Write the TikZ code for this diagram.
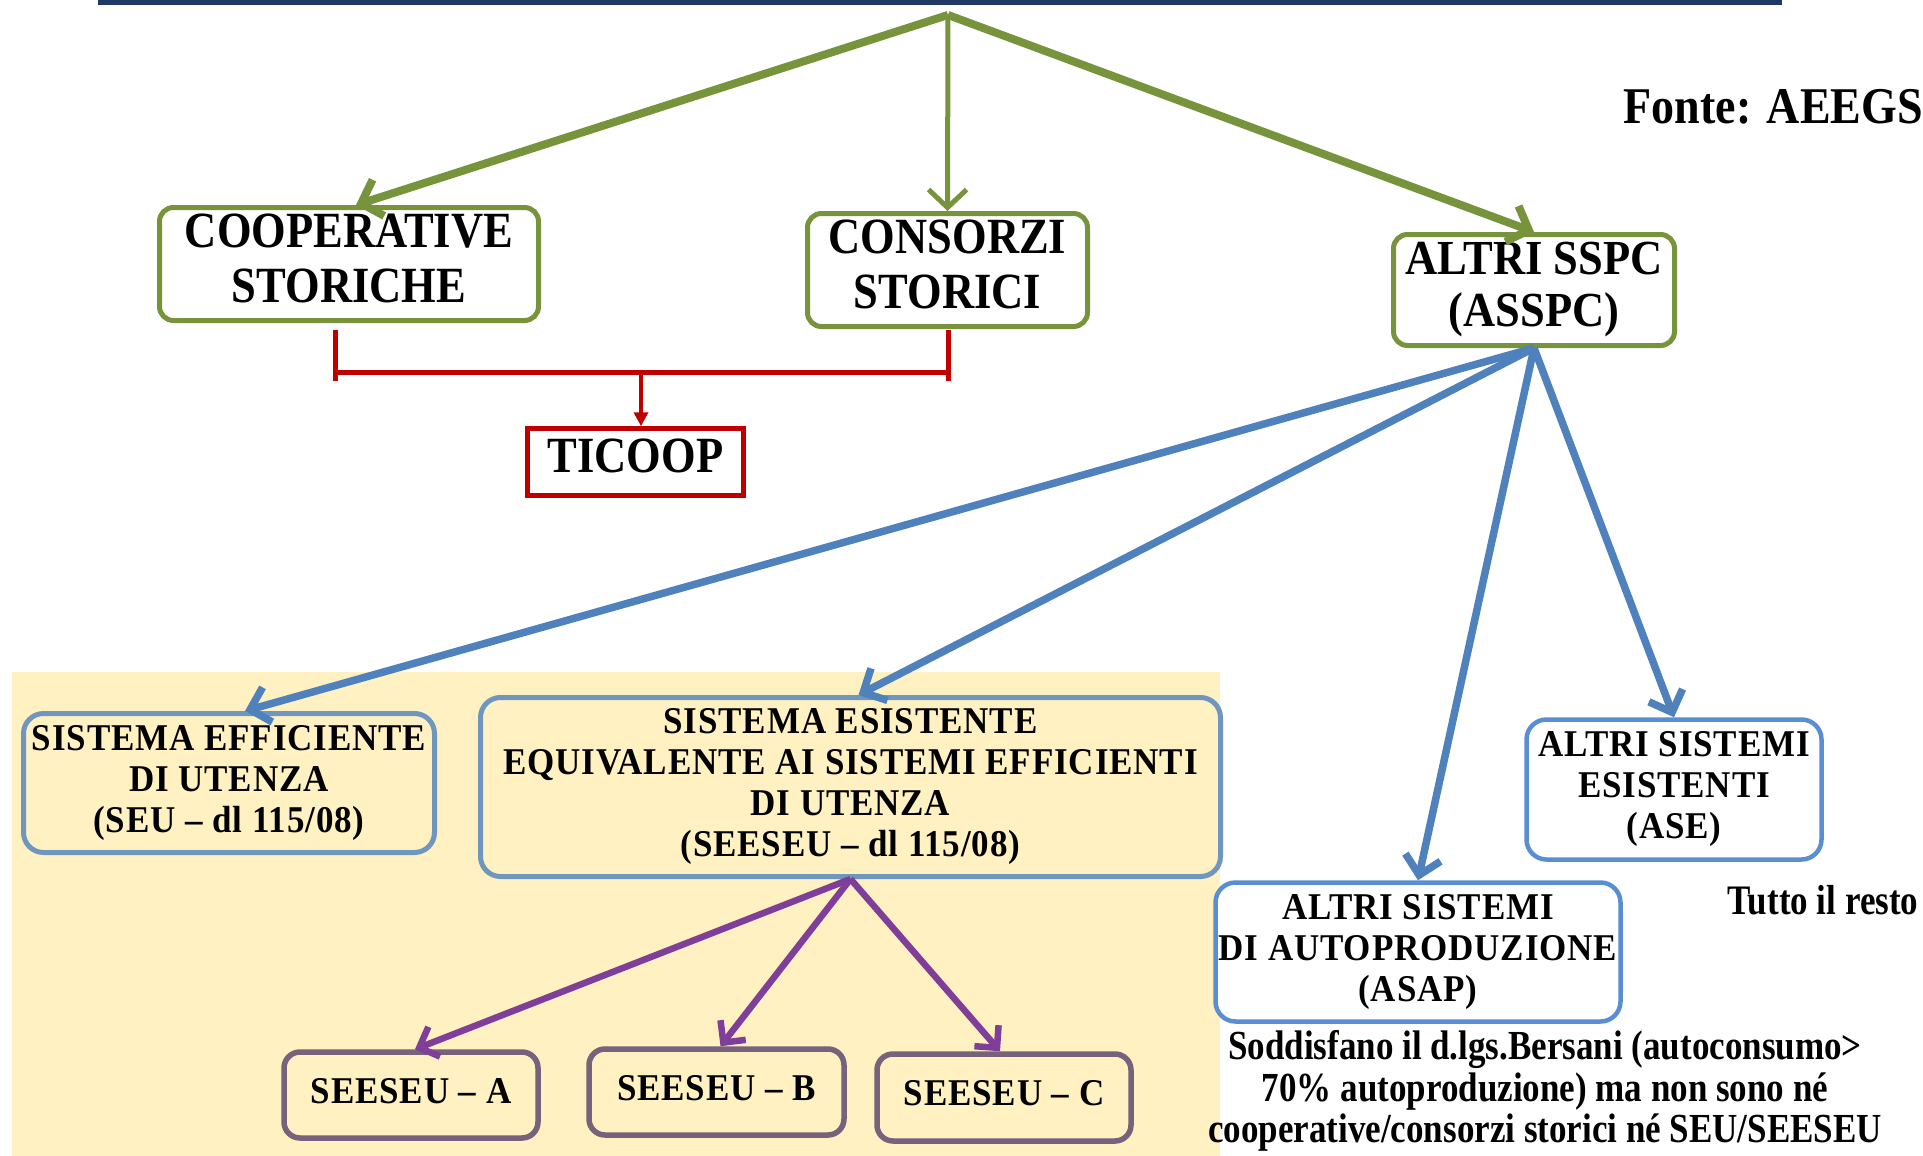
\documentclass[tikz,border=0pt]{standalone}
\usepackage{fontspec}
\setmainfont{Liberation Serif}
\usepackage{graphicx}
\usetikzlibrary{arrows.meta}

\definecolor{navybar}{HTML}{1F3864}
\definecolor{olivegreen}{HTML}{77933C}
\definecolor{darkred}{HTML}{C00000}
\definecolor{steelblue}{HTML}{4F81BD}
\definecolor{greyblue}{HTML}{6F96BE}
\definecolor{brightblue}{HTML}{5A8ED2}
\definecolor{violet}{HTML}{7F3F98}
\definecolor{mauve}{HTML}{76627A}
\definecolor{paleyellow}{HTML}{FFF1C2}

% vertically stretched, centred block of lines
\newcommand{\tallblock}[2]{\scalebox{1}[#1]{\begin{tabular}{@{}c@{}}#2\end{tabular}}}

\tikzset{
  bigtext/.style={font=\bfseries\fontsize{44.5}{48}\selectfont},
  smalltext/.style={font=\bfseries\fontsize{35}{38}\selectfont\addfontfeature{LetterSpace=2.5}},
  notetext/.style={font=\bfseries\fontsize{35}{35}\selectfont},
  greenbox/.style={draw=olivegreen, line width=5pt, rounded corners=14pt,
    fill=white, inner sep=0pt, bigtext},
  redbox/.style={draw=darkred, line width=4.5pt, fill=white, inner sep=0pt, bigtext},
  seubox/.style={draw=greyblue, line width=5pt, rounded corners=20pt,
    inner sep=0pt, smalltext},
  asbox/.style={draw=brightblue, line width=4.5pt, rounded corners=20pt,
    fill=white, inner sep=0pt, smalltext},
  subbox/.style={draw=mauve, line width=5.5pt, rounded corners=16pt,
    inner sep=0pt, smalltext},
  greenarrow/.style={draw=olivegreen, line width=8pt,
    -{Straight Barb[length=18pt,width=38pt]}},
  bluearrow/.style={draw=steelblue, line width=7.5pt,
    -{Straight Barb[length=18pt,width=36pt]}},
  violetarrow/.style={draw=violet, line width=6.5pt,
    -{Straight Barb[length=16pt,width=32pt]}},
  redline/.style={draw=darkred, line width=5pt},
  redarrow/.style={draw=darkred, line width=3.5pt, -{Triangle[length=14pt,width=14pt]}},
}

\begin{document}
\begin{tikzpicture}[x=1pt,y=-1pt]
\useasboundingbox (0,0) rectangle (1923,1156);
\fill[white] (0,0) rectangle (1923,1156);

% header rule and shaded area
\fill[navybar] (98,0) rectangle (1782,5);
\fill[paleyellow] (12,672) rectangle (1220,1156);

% top level
\coordinate (root) at (948,15);
\node[greenbox, minimum width=379pt, minimum height=113pt] (coop) at (349,264)
  {\tallblock{1.14}{COOPERATIVE\\STORICHE}};
\node[greenbox, minimum width=280pt, minimum height=113pt] (cons) at (947.5,270)
  {\tallblock{1.14}{CONSORZI\\STORICI}};
\node[greenbox, minimum width=281pt, minimum height=111pt] (asspc) at (1534,290)
  {\tallblock{1.1}{ALTRI SSPC\\(ASSPC)}};
\node[redbox, minimum width=216pt, minimum height=67pt] (ticoop) at (635.5,462)
  {\tallblock{1.14}{TICOOP}};

\node[font=\bfseries\fontsize{46}{50}\selectfont, anchor=base east, inner sep=0pt] (fonte)
  at (1923,124) {\scalebox{1}[1.12]{Fonte: AEEGS}};

% second level
\node[seubox, minimum width=411pt, minimum height=139pt] (seu) at (229,783)
  {\tallblock{1.08}{SISTEMA EFFICIENTE\\DI UTENZA\\(SEU -- dl 115/08)}};
\node[seubox, minimum width=740pt, minimum height=179pt] (seeseu) at (850.5,787)
  {\tallblock{1.08}{SISTEMA ESISTENTE\\EQUIVALENTE AI SISTEMI EFFICIENTI\\DI UTENZA\\(SEESEU -- dl 115/08)}};
\node[asbox, minimum width=295pt, minimum height=140pt] (ase) at (1674,789.5)
  {\tallblock{1.08}{ALTRI SISTEMI\\ESISTENTI\\(ASE)}};
\node[asbox, minimum width=405pt, minimum height=139pt] (asap) at (1418,952)
  {\tallblock{1.08}{ALTRI SISTEMI\\DI AUTOPRODUZIONE\\(ASAP)}};

% third level
\node[subbox, minimum width=254pt, minimum height=86pt] (sa) at (411,1095)
  {\tallblock{1.08}{SEESEU -- A}};
\node[subbox, minimum width=255pt, minimum height=86pt] (sb) at (716.5,1092)
  {\tallblock{1.08}{SEESEU -- B}};
\node[subbox, minimum width=254pt, minimum height=87pt] (sc) at (1004,1097.5)
  {\tallblock{1.08}{SEESEU -- C}};

% notes
\node[notetext, inner sep=0pt, anchor=base] (resto) at (1823,914)
  {\scalebox{1}[1.2]{Tutto il resto}};
\node[notetext, inner sep=0pt, anchor=south] (bersani) at (1545,1155)
  {\tallblock{1.18}{Soddisfano il d.lgs.Bersani (autoconsumo>\\70\% autoproduzione) ma non sono né\\cooperative/consorzi storici né SEU/SEESEU}};

% green connectors
\draw[greenarrow] (root) -- ([xshift=7pt]coop.north);
\draw[greenarrow, line width=5pt] (root) -- (cons.north);
\draw[greenarrow] (root) -- (asspc.north);

% red bracket to TICOOP
\coordinate (redLtop) at (335,330);
\coordinate (redLbot) at (335,381);
\coordinate (redRtop) at (948,330);
\coordinate (redRbot) at (948,381);
\coordinate (redLmid) at (335,372);
\coordinate (redRmid) at (948,372);
\coordinate (redM) at (641,372);
\draw[redline] (redLtop) -- (redLbot);
\draw[redline] (redRtop) -- (redRbot);
\draw[redline] (redLmid) -- (redRmid);
\draw[redarrow] (redM) -- (redM |- ticoop.north);

% blue connectors
\draw[bluearrow] (asspc.south) -- ([xshift=16pt]seu.north);
\draw[bluearrow] (asspc.south) -- ([xshift=8pt]seeseu.north);
\draw[bluearrow] (asspc.south) -- (asap.north);
\draw[bluearrow] (asspc.south) -- (ase.north);

% violet connectors
\draw[violetarrow] (seeseu.south) -- ([xshift=4pt]sa.north);
\draw[violetarrow] (seeseu.south) -- ([xshift=4pt]sb.north);
\draw[violetarrow] (seeseu.south) -- ([xshift=-4pt]sc.north);
\end{tikzpicture}
\end{document}
